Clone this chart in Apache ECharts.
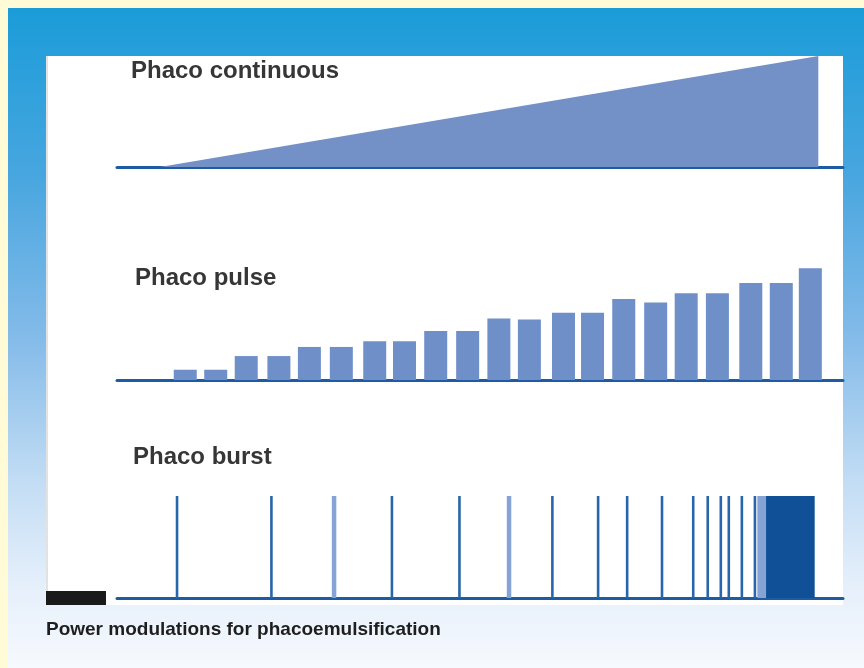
<!DOCTYPE html>
<html>
<head>
<meta charset="utf-8">
<script src="https://cdn.jsdelivr.net/npm/echarts@6/dist/echarts.min.js"></script>
<style>
html,body{margin:0;padding:0;background:#fffbd6;}
#chart{width:864px;height:668px;}
</style>
</head>
<body>
<div id="chart"></div>
<script>
// ---- Data (time axis 0..100 = full sweep, power 0..100 %) ----
const titles = ['Phaco continuous', 'Phaco pulse', 'Phaco burst'];
const caption = 'Power modulations for phacoemulsification';

// Continuous: linear ramp of power
const contTime  = [5.9, 96.6, 96.6];
const contPower = [0, 100, 0];

// Pulse: pulse centres and heights
const pulseTime  = [9.4, 13.6, 17.8, 22.3, 26.5, 30.9, 35.5, 39.6, 43.9, 48.3, 52.6, 56.8, 61.5, 65.5, 69.8, 74.2, 78.4, 82.7, 87.3, 91.5, 95.5];
const pulsePower = [9, 9, 21, 21, 29, 29, 34, 34, 43, 43, 54, 53, 59, 59, 71, 68, 76, 76, 85, 85, 98];

// Burst: individual bursts (full power)
const burstTime      = [8.4, 21.4, 38.0, 47.3, 60.1, 66.4, 70.4, 75.2, 79.5, 81.5, 83.3, 84.4, 86.2, 88.0];
const burstTimeLight = [29.9, 54.0];
const burstLightSpan = [88.2, 89.4];
const burstSolidSpan = [89.4, 96.1];
const burstPower = 100;

const cBase = '#1d5ca3';
const cFill = '#7391c6';
const cBar  = '#6f8fc9';
const cLine = '#2865aa';
const cLight = '#86a3d6';
const cSolid = '#0f5096';

const chart = echarts.init(document.getElementById('chart'), null, {renderer: 'canvas'});

const grids = [
  {left: 117, right: 21, top: 56, bottom: 501},
  {left: 117, right: 21, top: 266, bottom: 288},
  {left: 117, right: 21, top: 496, bottom: 70}
];
const xAxes = grids.map((g, i) => ({
  type: 'value', gridIndex: i, min: 0, max: 100,
  axisLine: {show: true, onZero: false, lineStyle: {color: cBase, width: 3}},
  axisTick: {show: false}, axisLabel: {show: false}, splitLine: {show: false}
}));
const yAxes = grids.map((g, i) => ({
  type: 'value', gridIndex: i, min: 0, max: 100, show: false
}));

const series = [
  {
    type: 'line', xAxisIndex: 0, yAxisIndex: 0,
    data: contTime.map((t, i) => [t, contPower[i]]),
    symbol: 'none', lineStyle: {width: 0}, areaStyle: {color: cFill, opacity: 1},
    silent: true, z: 1
  },
  {
    type: 'bar', xAxisIndex: 1, yAxisIndex: 1,
    data: pulseTime.map((t, i) => [t, pulsePower[i]]),
    barWidth: 23, itemStyle: {color: cBar}, silent: true, z: 1
  },
  {
    type: 'bar', xAxisIndex: 2, yAxisIndex: 2,
    data: burstTime.map(t => [t, burstPower]),
    barWidth: 2.6, barGap: '-100%', itemStyle: {color: cLine}, silent: true, z: 1
  },
  {
    type: 'bar', xAxisIndex: 2, yAxisIndex: 2,
    data: burstTimeLight.map(t => [t, burstPower]),
    barWidth: 4.5, barGap: '-100%', itemStyle: {color: cLight}, silent: true, z: 1
  },
  {
    type: 'line', xAxisIndex: 2, yAxisIndex: 2,
    data: burstLightSpan.map(t => [t, burstPower]),
    symbol: 'none', lineStyle: {width: 0}, areaStyle: {color: cLight, opacity: 1},
    silent: true, z: 1
  },
  {
    type: 'line', xAxisIndex: 2, yAxisIndex: 2,
    data: burstSolidSpan.map(t => [t, burstPower]),
    symbol: 'none', lineStyle: {width: 0}, areaStyle: {color: cSolid, opacity: 1},
    silent: true, z: 1
  }
];

const titleFont = 'bold 24px "Liberation Sans", Arial, sans-serif';

chart.setOption({
  backgroundColor: '#fffbd6',
  animation: false,
  grid: grids,
  xAxis: xAxes,
  yAxis: yAxes,
  series: series,
  graphic: [
    {type: 'rect', z: -10, silent: true, shape: {x: 8, y: 8, width: 856, height: 660},
     style: {fill: new echarts.graphic.LinearGradient(0, 0, 0, 1, [
       {offset: 0, color: '#1a9cd9'},
       {offset: 0.25, color: '#47a6df'},
       {offset: 0.5, color: '#84bbe9'},
       {offset: 0.72, color: '#c3ddf4'},
       {offset: 0.88, color: '#e6f0fb'},
       {offset: 1, color: '#f6f9fd'}
     ])}},
    {type: 'rect', z: -9, silent: true, shape: {x: 46, y: 56, width: 797, height: 549}, style: {fill: '#ffffff'}},
    {type: 'rect', z: -8, silent: true, shape: {x: 46, y: 56, width: 2, height: 549}, style: {fill: '#e2e2e2'}},
    {type: 'rect', z: 5, silent: true, shape: {x: 46, y: 591, width: 60, height: 14}, style: {fill: '#1a1a1a'}},
    {type: 'text', z: 5, silent: true, x: 131, y: 71,
     style: {text: titles[0], font: titleFont, fill: '#363636', verticalAlign: 'middle'}},
    {type: 'text', z: 5, silent: true, x: 135, y: 278,
     style: {text: titles[1], font: titleFont, fill: '#363636', verticalAlign: 'middle'}},
    {type: 'text', z: 5, silent: true, x: 133, y: 457,
     style: {text: titles[2], font: titleFont, fill: '#363636', verticalAlign: 'middle'}},
    {type: 'text', z: 5, silent: true, x: 46, y: 630,
     style: {text: caption, font: 'bold 19px "Liberation Sans", Arial, sans-serif', fill: '#1e1e1e', verticalAlign: 'middle'}}
  ]
});
</script>
</body>
</html>
